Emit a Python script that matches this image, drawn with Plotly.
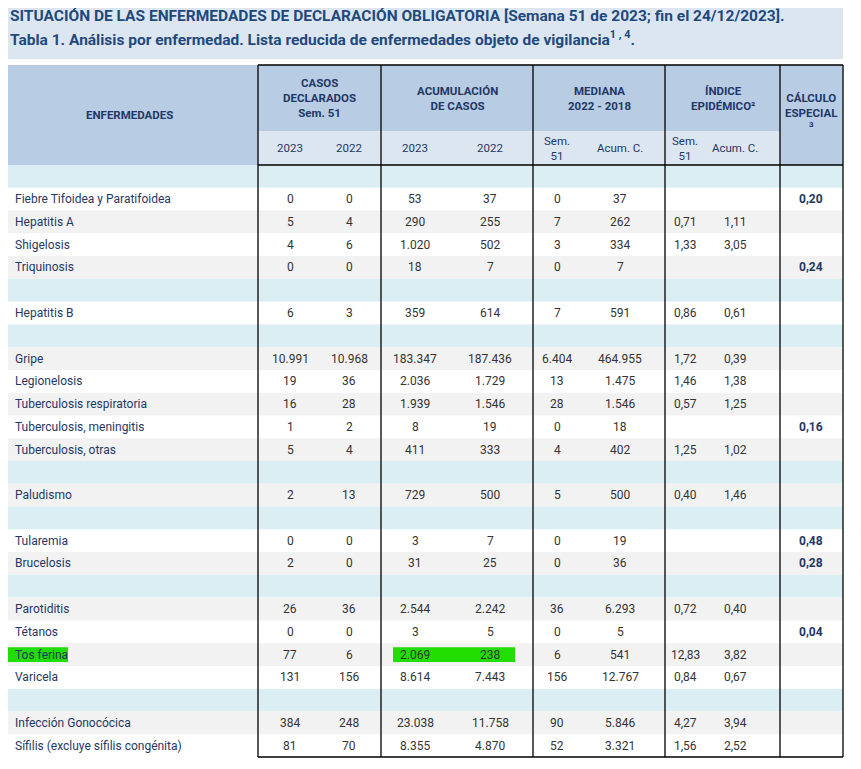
import plotly.graph_objects as go

title_1 = "SITUACIÓN DE LAS ENFERMEDADES DE DECLARACIÓN OBLIGATORIA [Semana 51 de 2023; fin el 24/12/2023]."
title_2 = "Tabla 1. Análisis por enfermedad. Lista reducida de enfermedades objeto de vigilancia<sup>1 , 4</sup>."

group_headers = ["CASOS<br>DECLARADOS<br>Sem. 51", "ACUMULACIÓN<br>DE CASOS", "MEDIANA<br>2022 - 2018",
                 "ÍNDICE<br>EPIDÉMICO²", "CÁLCULO<br>ESPECIAL<br><sup>3</sup>"]
sub_headers = ["2023", "2022", "2023", "2022", "Sem.<br>51", "Acum. C.", "Sem.<br>51", "Acum. C."]

# (name, is_group, values[8], especial)
rows = [
    ("Enfermedades de transmisión alimentaria", True, None, ""),
    ("Fiebre Tifoidea y Paratifoidea", False, ["0", "0", "53", "37", "0", "37", "", ""], "0,20"),
    ("Hepatitis A", False, ["5", "4", "290", "255", "7", "262", "0,71", "1,11"], ""),
    ("Shigelosis", False, ["4", "6", "1.020", "502", "3", "334", "1,33", "3,05"], ""),
    ("Triquinosis", False, ["0", "0", "18", "7", "0", "7", "", ""], "0,24"),
    ("Enfermedades de transmisión parenteral", True, None, ""),
    ("Hepatitis B", False, ["6", "3", "359", "614", "7", "591", "0,86", "0,61"], ""),
    ("Enfermedades de transmisión respiratoria", True, None, ""),
    ("Gripe", False, ["10.991", "10.968", "183.347", "187.436", "6.404", "464.955", "1,72", "0,39"], ""),
    ("Legionelosis", False, ["19", "36", "2.036", "1.729", "13", "1.475", "1,46", "1,38"], ""),
    ("Tuberculosis respiratoria", False, ["16", "28", "1.939", "1.546", "28", "1.546", "0,57", "1,25"], ""),
    ("Tuberculosis, meningitis", False, ["1", "2", "8", "19", "0", "18", "", ""], "0,16"),
    ("Tuberculosis, otras", False, ["5", "4", "411", "333", "4", "402", "1,25", "1,02"], ""),
    ("Enfermedades de transmisión vectorial", True, None, ""),
    ("Paludismo", False, ["2", "13", "729", "500", "5", "500", "0,40", "1,46"], ""),
    ("Enfermedades de transmisión zoonótica", True, None, ""),
    ("Tularemia", False, ["0", "0", "3", "7", "0", "19", "", ""], "0,48"),
    ("Brucelosis", False, ["2", "0", "31", "25", "0", "36", "", ""], "0,28"),
    ("Enfermedades prevenibles por vacunación", True, None, ""),
    ("Parotiditis", False, ["26", "36", "2.544", "2.242", "36", "6.293", "0,72", "0,40"], ""),
    ("Tétanos", False, ["0", "0", "3", "5", "0", "5", "", ""], "0,04"),
    ("Tos ferina", False, ["77", "6", "2.069", "238", "6", "541", "12,83", "3,82"], ""),
    ("Varicela", False, ["131", "156", "8.614", "7.443", "156", "12.767", "0,84", "0,67"], ""),
    ("Infecciones de transmisión sexual", True, None, ""),
    ("Infección Gonocócica", False, ["384", "248", "23.038", "11.758", "90", "5.846", "4,27", "3,94"], ""),
    ("Sífilis (excluye sífilis congénita)", False, ["81", "70", "8.355", "4.870", "52", "3.321", "1,56", "2,52"], ""),
]
shaded = [0, 0, 1, 0, 1, 0, 0, 0, 1, 0, 1, 0, 1, 0, 1, 0, 0, 1, 0, 1, 0, 1, 0, 0, 1, 0]

FONT = "Liberation Sans Narrow, Arial Narrow, Roboto, sans-serif"
NAVY = "#1f3864"
TXT = "#333333"
col_edges = [0, 258, 381, 533, 665, 780, 843]
sub_x = [290, 349, 415, 490, 557, 620, 685, 735]
calc_x = 811
top, hdr_mid, hdr_bot = 65, 131, 165
row_h = (757 - hdr_bot) / len(rows)

shapes, ann = [], []


def rect(x0, y0, x1, y1, color):
    shapes.append(dict(type="rect", x0=x0, x1=x1, y0=y0, y1=y1, fillcolor=color, line_width=0, layer="below"))


def line(x0, y0, x1, y1, w=1.3):
    shapes.append(dict(type="line", x0=x0, x1=x1, y0=y0, y1=y1, line=dict(color="black", width=w)))


def text(x, y, s, size=11, color=TXT, anchor="center", bold=False):
    ann.append(dict(x=x, y=y, text=f"<b>{s}</b>" if bold else s, showarrow=False, xanchor=anchor,
                    yanchor="middle", font=dict(family=FONT, size=size, color=color), align="center"))


rect(0, 0, 843, 59, "#dce6f1")
ann.append(dict(x=8, y=16, text=f"<b>{title_1}</b>", showarrow=False, xanchor="left", yanchor="middle",
                font=dict(family=FONT, size=15.5, color="#1f497d")))
ann.append(dict(x=8, y=38, text=f"<b>{title_2}</b>", showarrow=False, xanchor="left", yanchor="middle",
                font=dict(family=FONT, size=15.5, color="#1f497d")))

rect(0, top, 843, hdr_mid, "#b8cce4")
rect(0, hdr_mid, 843, hdr_bot, "#dce6f1")
rect(0, top, 258, hdr_bot, "#b8cce4")
rect(780, top, 843, hdr_bot, "#b8cce4")
text(129, 115, "ENFERMEDADES", 11.5, NAVY, bold=True)
for i, h in enumerate(group_headers[:4]):
    text((col_edges[i + 1] + col_edges[i + 2]) / 2, 98, h, 11.5, NAVY, bold=True)
text(811, 110, group_headers[4], 11.5, NAVY, bold=True)
for x, s in zip(sub_x, sub_headers):
    text(x, 148, s, 11.5, NAVY)

for i, (name, grp, vals, esp) in enumerate(rows):
    y0 = hdr_bot + i * row_h
    yc = y0 + row_h / 2
    if grp:
        rect(0, y0, 843, y0 + row_h, "#daeef3")
        text(4, yc, name, 12, NAVY, "left")
        continue
    if shaded[i]:
        rect(0, y0, 843, y0 + row_h, "#f2f2f2")
    if name == "Tos ferina":
        rect(5, y0 + 4, 68, y0 + row_h - 4, "#22dd00")
        rect(393, y0 + 4, 515, y0 + row_h - 4, "#22dd00")
    text(13, yc, name, 12, NAVY, "left")
    for x, v in zip(sub_x, vals):
        text(x, yc, v, 12)
    if esp:
        text(calc_x, yc, esp, 12, NAVY, bold=True)

for x in col_edges[1:]:
    line(x, top, x, 757)
line(258, hdr_bot, 843, hdr_bot)
line(258, 757, 843, 757)
line(258, top, 843, top)

# the page body adds an 8px margin, so offset the ranges to keep pixel positions
fig = go.Figure()
fig.update_layout(width=861, height=769, margin=dict(l=0, r=0, t=0, b=0), plot_bgcolor="white",
                  paper_bgcolor="white", shapes=shapes, annotations=ann,
                  xaxis=dict(range=[8, 869], visible=False, fixedrange=True),
                  yaxis=dict(range=[777, 8], visible=False, fixedrange=True))
fig.write_html("out.html")
